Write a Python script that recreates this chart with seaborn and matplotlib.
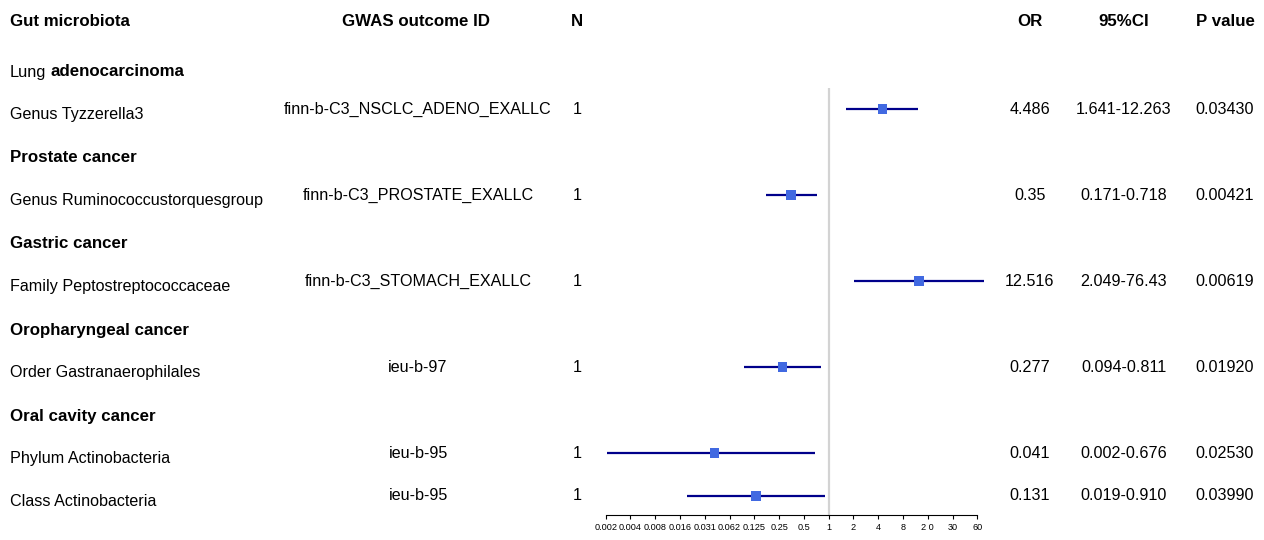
import numpy as np
import seaborn as sns
import matplotlib.pyplot as plt

# ---------------- data ----------------
groups = ["Lung adenocarcinoma", "Prostate cancer", "Gastric cancer",
          "Oropharyngeal cancer", "Oral cavity cancer"]
microbiota = ["Genus Tyzzerella3", "Genus Ruminococcustorquesgroup",
              "Family Peptostreptococcaceae", "Order Gastranaerophilales",
              "Phylum Actinobacteria", "Class Actinobacteria"]
group_of = [0, 1, 2, 3, 4, 4]
outcome_id = ["finn-b-C3_NSCLC_ADENO_EXALLC", "finn-b-C3_PROSTATE_EXALLC",
              "finn-b-C3_STOMACH_EXALLC", "ieu-b-97", "ieu-b-95", "ieu-b-95"]
n_snp = [1, 1, 1, 1, 1, 1]
odds = [4.486, 0.35, 12.516, 0.277, 0.041, 0.131]
ci_low = [1.641, 0.171, 2.049, 0.094, 0.002, 0.019]
ci_high = [12.263, 0.718, 76.43, 0.811, 0.676, 0.910]
ci_text = ["1.641-12.263", "0.171-0.718", "2.049-76.43", "0.094-0.811",
           "0.002-0.676", "0.019-0.910"]
p_text = ["0.03430", "0.00421", "0.00619", "0.01920", "0.02530", "0.03990"]
or_text = ["4.486", "0.35", "12.516", "0.277", "0.041", "0.131"]

tick_pow = np.arange(-9, 7)
tick_labels = ["0.002", "0.004", "0.008", "0.016", "0.031", "0.062", "0.125",
               "0.25", "0.5", "1", "2", "4", "8", "2 0", "30", "60"]

# ---------------- layout ----------------
W, H = 1264, 540
sns.set_style("white")
plt.rcParams["font.family"] = ["Liberation Sans", "DejaVu Sans"]
plt.rcParams["text.color"] = "black"
plt.rcParams["xtick.color"] = "black"
plt.rcParams["xtick.labelcolor"] = "black"
FS = 11.6
FSB = 12.2

# row heights (pixels) between successive rows
step = {("head", "group"): 50, ("group", "data"): 37,
        ("data", "group"): 49, ("data", "data"): 43}
rows = []
prev_kind, y = "head", 22
head_y = y
last_g = None
for i, g in enumerate(group_of):
    if g != last_g:
        y += step[(prev_kind, "group")]
        rows.append(("group", g, y))
        prev_kind = "group"
        last_g = g
    y += step[(prev_kind, "data")]
    rows.append(("data", i, y))
    prev_kind = "data"
data_y = [r[2] for r in rows if r[0] == "data"]
group_y = [r[2] for r in rows if r[0] == "group"]

fig = plt.figure(figsize=(W / 100, H / 100), dpi=100)
tx = fig.add_axes([0, 0, 1, 1])
tx.set_xlim(0, W)
tx.set_ylim(H, 0)
tx.axis("off")

col_x = {"name": 10, "id": 418, "n": 577, "or": 1030, "ci": 1124, "p": 1225}

# headers
tx.text(col_x["name"], head_y, "Gut microbiota", fontsize=FSB, weight="bold", ha="left", va="center")
tx.text(416, head_y, "GWAS outcome ID", fontsize=FSB, weight="bold", ha="center", va="center")
tx.text(col_x["n"], head_y, "N", fontsize=FSB, weight="bold", ha="center", va="center")
tx.text(col_x["or"], head_y, "OR", fontsize=FSB, weight="bold", ha="center", va="center")
tx.text(col_x["ci"], head_y, "95%CI", fontsize=FSB, weight="bold", ha="center", va="center")
tx.text(col_x["p"], head_y, "P value", fontsize=FSB, weight="bold", ha="center", va="center")

# group labels ("Lung" is plain in the original)
for g, gy in zip(groups, group_y):
    if g.startswith("Lung "):
        t = tx.text(col_x["name"], gy, "Lung", fontsize=FSB - 0.4, ha="left", va="center")
        tx.annotate(g[5:], xy=(1, 0.5), xycoords=t, xytext=(4, 0),
                    textcoords="offset pixels", fontsize=FSB, weight="bold",
                    ha="left", va="center")
    else:
        tx.text(col_x["name"], gy, g, fontsize=FSB, weight="bold", ha="left", va="center")

for i, ry in enumerate(data_y):
    tx.text(col_x["name"], ry + 6, microbiota[i], fontsize=FS, ha="left", va="center")
    tx.text(col_x["id"], ry, outcome_id[i], fontsize=FS, ha="center", va="center")
    tx.text(col_x["n"], ry, str(n_snp[i]), fontsize=FS, ha="center", va="center")
    tx.text(col_x["or"], ry, or_text[i], fontsize=FS, ha="center", va="center")
    tx.text(col_x["ci"], ry, ci_text[i], fontsize=FS, ha="center", va="center")
    tx.text(col_x["p"], ry, p_text[i], fontsize=FS, ha="center", va="center")

# ---------------- forest panel ----------------
x0, x1, axis_y = 605.7, 977.3, 515
ax = fig.add_axes([x0 / W, (H - axis_y) / H, (x1 - x0) / W, axis_y / H])
ax.patch.set_alpha(0)
ax.set_xscale("log", base=2)
ax.set_xlim(2.0 ** tick_pow[0], 2.0 ** tick_pow[-1])
ax.set_ylim(axis_y, 0)

ax.vlines(1, data_y[0] - 21, axis_y, color="#d3d3d3", lw=1.6, zorder=1)
ax.hlines(data_y, ci_low, ci_high, color="#00008B", lw=1.6, zorder=2,
          clip_on=False)
sns.scatterplot(x=odds, y=data_y, marker="s", s=45, color="#4169E1",
                edgecolor="none", ax=ax, zorder=3, legend=False, clip_on=False)

for s in ["top", "right", "left"]:
    ax.spines[s].set_visible(False)
ax.spines["bottom"].set_linewidth(0.8)
ax.spines["bottom"].set_color("black")
ax.set_xticks(2.0 ** tick_pow)
ax.set_xticklabels(tick_labels)
ax.minorticks_off()
ax.tick_params(axis="x", which="major", direction="out", length=3, width=0.8,
               labelsize=6.6, pad=2.5, bottom=True, color="black")
ax.set_yticks([])
ax.set_xlabel("")
ax.set_ylabel("")

fig.savefig("out.png", dpi=100)
